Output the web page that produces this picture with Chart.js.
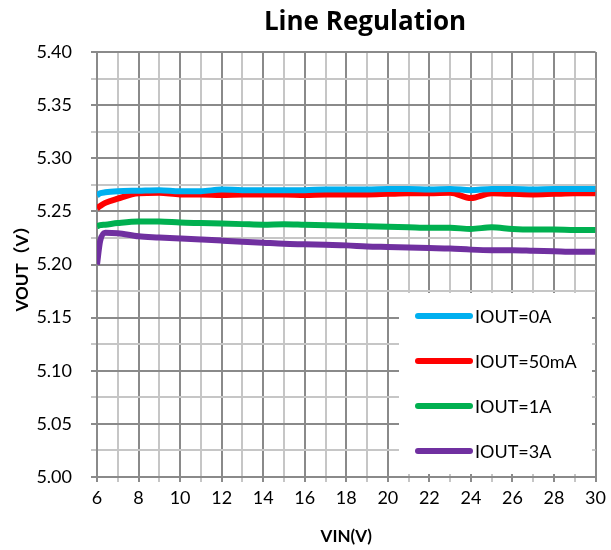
<!DOCTYPE html>
<html><head><meta charset="utf-8">
<script src="https://cdn.jsdelivr.net/npm/chart.js@4.4.1/dist/chart.umd.min.js"></script>
<style>html,body{margin:0;padding:0;background:#fff}</style>
</head><body>
<canvas id="c" width="611" height="550"></canvas>
<script>
const titleText = 'Line Regulation';
const xTitle = 'VIN(V)';
const yTitle = 'VOUT（V）';
const vin = [6, 6.15, 6.4, 7, 8, 9, 10, 11, 12, 13, 14, 15, 16, 17, 18, 19, 20, 21, 22, 23, 24, 25, 26, 27, 28, 29, 30];
const seriesLabels = ['IOUT=0A', 'IOUT=50mA', 'IOUT=1A', 'IOUT=3A'];
const iout0A   = [5.265, 5.267, 5.268, 5.269, 5.2695, 5.270, 5.269, 5.269, 5.2705, 5.270, 5.270, 5.270, 5.270, 5.2705, 5.2705, 5.2705, 5.271, 5.271, 5.2705, 5.271, 5.270, 5.271, 5.271, 5.2705, 5.271, 5.271, 5.271];
const iout50mA = [5.253, 5.255, 5.258, 5.262, 5.267, 5.2675, 5.266, 5.266, 5.2655, 5.266, 5.266, 5.266, 5.2655, 5.266, 5.266, 5.266, 5.2665, 5.267, 5.267, 5.2675, 5.2625, 5.267, 5.2665, 5.266, 5.2665, 5.267, 5.267];
const iout1A   = [5.236, 5.237, 5.2375, 5.239, 5.2405, 5.2405, 5.2395, 5.239, 5.2385, 5.238, 5.2375, 5.238, 5.2375, 5.237, 5.2365, 5.236, 5.2355, 5.235, 5.2345, 5.2345, 5.2335, 5.235, 5.2335, 5.233, 5.233, 5.2325, 5.2325];
const iout3A   = [5.200, 5.222, 5.230, 5.2295, 5.2265, 5.2255, 5.2245, 5.2235, 5.2225, 5.2215, 5.2205, 5.2195, 5.219, 5.2185, 5.218, 5.217, 5.2165, 5.216, 5.2155, 5.215, 5.214, 5.2135, 5.2135, 5.213, 5.2125, 5.212, 5.212];
const seriesColors = ['#00B0F0', '#FF0000', '#00B050', '#7030A0'];
const allSeries = [iout0A, iout50mA, iout1A, iout3A];

const FONT = "Lato, 'Noto Sans CJK SC', sans-serif";
const TITLE_FONT = "'Open Sans', Lato, sans-serif";
const MAJOR = '#8a8a8a', MINOR = '#c6c6c6';

const datasets = allSeries.map((s, i) => ({
  label: seriesLabels[i],
  data: vin.map((x, j) => ({x: x, y: s[j]})),
  borderColor: seriesColors[i],
  backgroundColor: seriesColors[i],
  borderWidth: 6,
  pointRadius: 0,
  cubicInterpolationMode: 'monotone',
  fill: false
}));

const titlePlugin = {
  id: 'titleDraw',
  afterDraw(chart) {
    const c = chart.ctx;
    c.save();
    c.font = "bold 26px " + TITLE_FONT;
    c.fillStyle = '#000';
    c.textAlign = 'center';
    c.textBaseline = 'alphabetic';
    c.fillText(titleText, 365, 30);
    c.restore();
  }
};

const legendPlugin = {
  id: 'legendBox',
  afterDatasetsDraw(chart) {
    const c = chart.ctx;
    c.save();
    c.fillStyle = '#fff';
    c.fillRect(399, 293, 193, 181);
    chart.data.datasets.forEach((ds, i) => {
      const y = 316 + i * 45;
      c.strokeStyle = ds.borderColor;
      c.lineWidth = 6;
      c.lineCap = 'round';
      c.beginPath();
      c.moveTo(418, y);
      c.lineTo(470, y);
      c.stroke();
      c.fillStyle = '#000';
      c.font = "18px " + FONT;
      c.textAlign = 'left';
      c.textBaseline = 'middle';
      c.fillText(ds.label, 475, y + 1);
    });
    c.restore();
  }
};

new Chart(document.getElementById('c'), {
  type: 'line',
  data: { datasets },
  plugins: [titlePlugin, legendPlugin],
  options: {
    responsive: false,
    animation: false,
    devicePixelRatio: 1,
    layout: { padding: { top: 52, right: 13, left: 0, bottom: 0 } },
    plugins: { legend: { display: false }, title: { display: false }, tooltip: { enabled: false } },
    scales: {
      x: {
        type: 'linear', min: 6, max: 30,
        afterFit(s) { s.height = 73; },
        ticks: {
          stepSize: 1, autoSkip: false, maxRotation: 0, minRotation: 0,
          color: '#000', font: { family: FONT, size: 18 }, padding: 5,
          callback: v => (Math.round(v) % 2 === 0 ? String(Math.round(v)) : '')
        },
        grid: {
          color: ctx => (ctx.tick && Math.round(ctx.tick.value) % 2 === 0 ? MAJOR : MINOR),
          lineWidth: 2, tickLength: 5, drawTicks: true
        },
        border: { color: MAJOR, width: 2 },
        title: { display: true, text: xTitle, color: '#000', font: { family: FONT, size: 17, weight: 'bold' }, padding: { top: 0, bottom: 3 } }
      },
      y: {
        min: 5.0, max: 5.4,
        afterFit(s) { s.width = 97; },
        ticks: {
          stepSize: 0.025, autoSkip: false, maxTicksLimit: 100,
          color: '#000', font: { family: FONT, size: 18 }, padding: 19,
          callback: v => (Math.round(v * 1000) % 50 === 0 ? v.toFixed(2) : '')
        },
        grid: {
          color: ctx => (ctx.tick && Math.round(ctx.tick.value * 1000) % 50 === 0 ? MAJOR : MINOR),
          lineWidth: 2, tickLength: 6, drawTicks: true
        },
        border: { color: MAJOR, width: 2 },
        title: { display: true, text: yTitle, color: '#000', font: { family: FONT, size: 17, weight: 'bold' }, padding: { top: 12, bottom: 0 } }
      }
    }
  }
});
</script>
</body></html>
